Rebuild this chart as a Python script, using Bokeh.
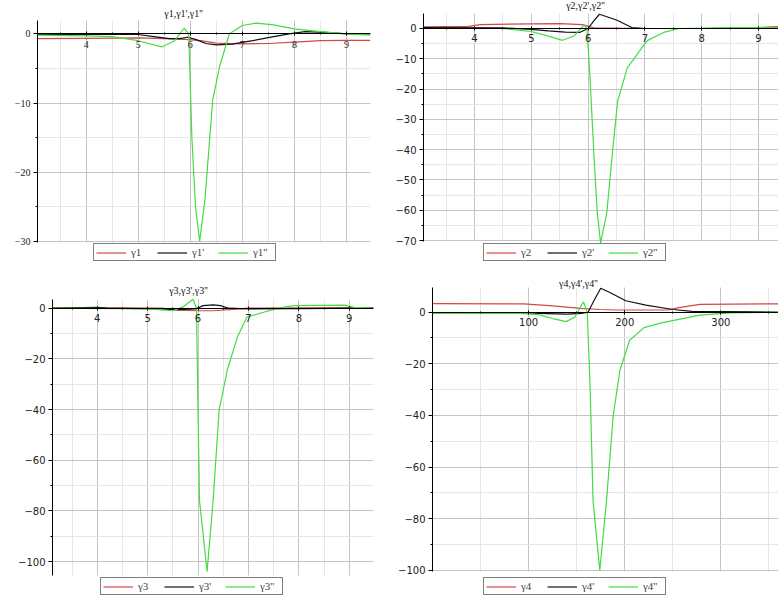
from bokeh.plotting import figure
from bokeh.models import Range1d, FixedTicker, Legend, LegendItem, Label
from bokeh.layouts import column, row
from bokeh.embed import file_html
from bokeh.resources import INLINE

RED = "#d04848"
BLACK = "#101010"
GREEN = "#44dc44"

# ---------------- data ----------------
# panel 1
g1_x = [3.07, 4.0, 5.0, 5.5, 5.9, 6.2, 6.5, 7.0, 7.5, 8.0, 8.5, 9.0, 9.46]
g1_y = [-0.7, -0.65, -0.6, -0.7, -0.8, -1.0, -1.35, -1.45, -1.4, -1.2, -1.0, -0.95, -0.95]
g1p_x = [3.07, 4.5, 5.0, 5.3, 5.6, 5.8, 5.95, 6.1, 6.3, 6.5, 6.8, 7.2, 7.6, 7.9, 8.2, 8.6, 9.0, 9.46]
g1p_y = [-0.1, -0.1, -0.1, -0.4, -0.7, -0.7, -0.5, -0.8, -1.4, -1.6, -1.5, -1.0, -0.4, 0.0, 0.3, 0.2, 0.0, 0.0]
g1pp_x = [3.07, 4.0, 4.5, 5.0, 5.45, 5.7, 5.88, 5.97, 6.03, 6.1, 6.18, 6.28, 6.37, 6.43, 6.56, 6.75,
          7.0, 7.27, 7.6, 8.0, 8.5, 9.0, 9.46]
g1pp_y = [-0.2, -0.3, -0.4, -1.0, -1.9, -1.0, 0.8, 0.0, -15.0, -25.0, -30.0, -24.0, -15.4, -9.6, -4.8, 0.0,
          1.2, 1.55, 1.3, 0.7, 0.3, 0.0, -0.2]

# panel 2
g2_x = [3.1, 3.9, 4.1, 5.0, 5.5, 5.9, 6.1, 7.0, 8.0, 9.0, 9.35]
g2_y = [0.5, 0.7, 1.3, 1.5, 1.6, 1.3, 0.2, 0.0, 0.0, 0.3, 0.6]
g2p_x = [3.1, 4.5, 5.0, 5.3, 5.6, 5.85, 6.0, 6.1, 6.2, 6.5, 6.77, 7.0, 9.35]
g2p_y = [0.3, 0.2, -0.3, -0.8, -1.2, -1.3, 0.0, 2.5, 4.7, 2.8, 0.3, 0.0, 0.0]
g2pp_x = [3.1, 4.5, 5.0, 5.3, 5.55, 5.75, 5.93, 5.98, 6.03, 6.1, 6.16, 6.22, 6.33, 6.43, 6.52, 6.69,
          7.04, 7.33, 7.6, 8.5, 9.35]
g2pp_y = [0.0, 0.0, -1.0, -2.5, -3.9, -2.5, 1.1, 0.0, -15.0, -40.7, -60.7, -70.8, -60.7, -40.7, -24.0, -13.0,
          -4.0, -1.3, 0.0, 0.3, 0.3]

# panel 3
g3_x = [3.11, 5.3, 5.6, 6.0, 6.3, 6.7, 7.0, 9.48]
g3_y = [0.2, 0.0, -0.8, -1.0, -1.0, -0.5, 0.0, 0.2]
g3p_x = [3.11, 4.0, 4.2, 5.2, 5.6, 5.95, 6.1, 6.3, 6.45, 6.6, 7.0, 9.48]
g3p_y = [0.0, 0.3, 0.0, -0.3, -0.6, -0.3, 1.0, 1.3, 1.0, 0.0, -0.3, 0.0]
g3pp_x = [3.11, 5.0, 5.5, 5.7, 5.9, 5.97, 6.0, 6.03, 6.18, 6.3, 6.42, 6.58, 6.78, 6.97, 7.3, 7.6, 7.9,
          8.9, 9.1, 9.48]
g3pp_y = [0.0, -0.3, -1.0, 0.5, 3.5, 0.0, -40.0, -76.0, -104.0, -76.0, -40.0, -24.5, -11.5, -3.5, -1.6, 0.0,
          1.0, 1.2, 0.3, 0.0]

# panel 4
g4_x = [0, 95, 125, 154, 175, 190, 245, 255, 278, 360]
g4_y = [3.3, 3.2, 2.4, 1.4, 1.0, 0.8, 0.8, 1.6, 3.0, 3.2]
g4p_x = [0, 100, 110, 140, 155, 162, 168, 175, 185, 201, 222, 250, 270, 300, 360]
g4p_y = [-0.3, -0.3, -0.5, -0.8, -0.5, 0.0, 4.5, 9.2, 7.5, 4.4, 2.7, 1.0, 0.3, 0.2, 0.0]
g4pp_x = [0, 90, 110, 125, 139, 148, 157, 161, 164, 167, 174, 181, 188, 195, 205, 220, 237, 278, 310, 360]
g4pp_y = [-0.5, -0.5, -1.0, -2.5, -3.7, -2.0, 4.0, 0.0, -30.0, -73.0, -100.0, -73.0, -40.0, -22.5, -10.9,
          -6.0, -4.3, -1.2, -0.3, 0.0]

names1 = ["γ1", "γ1'", "γ1''"]
names2 = ["γ2", "γ2'", "γ2''"]
names3 = ["γ3", "γ3'", "γ3''"]
names4 = ["γ4", "γ4'", "γ4''"]
titles = ["γ1,γ1',γ1''", "γ2,γ2',γ2''", "γ3,γ3',γ3''", "γ4,γ4',γ4''"]


def minus(v):
    return ("−" + str(abs(v))) if v < 0 else str(v)


def panel(width, height, borders, xr, yr, ybounds, xt, xmin, yt, ymin, series, names, title,
          title_xy, legend_loc, tick_font):
    bl, br = borders
    p = figure(width=width, height=height, x_range=Range1d(*xr), y_range=Range1d(*yr),
               output_backend="svg", toolbar_location=None, x_axis_location="above",
               min_border_left=bl, min_border_right=br, min_border_top=0, min_border_bottom=0)
    p.outline_line_color = None
    p.background_fill_color = "white"
    p.border_fill_color = "white"

    p.xaxis.ticker = FixedTicker(ticks=xt, minor_ticks=xmin)
    p.yaxis.ticker = FixedTicker(ticks=yt, minor_ticks=ymin)
    p.xaxis.major_label_overrides = {t: minus(t) for t in xt}
    p.yaxis.major_label_overrides = {t: minus(t) for t in yt}
    p.xaxis.fixed_location = 0
    p.yaxis.bounds = ybounds
    for ax in (p.xaxis[0], p.yaxis[0]):
        ax.axis_line_color = "black"
        ax.axis_line_width = 1
        ax.major_tick_line_color = "black"
        ax.minor_tick_line_color = "black"
        ax.major_label_text_font = tick_font
        ax.major_label_text_font_size = "10px"
        ax.major_label_text_color = "#222222"
    p.xaxis.major_tick_in = 2
    p.xaxis.major_tick_out = 2
    p.xaxis.minor_tick_in = 1
    p.xaxis.minor_tick_out = 1
    p.xaxis.major_label_standoff = -16
    p.yaxis.major_tick_in = 0
    p.yaxis.major_tick_out = 4
    p.yaxis.minor_tick_in = 0
    p.yaxis.minor_tick_out = 2
    p.yaxis.major_label_standoff = 3

    for g in (p.xgrid[0], p.ygrid[0]):
        g.grid_line_color = "#c4c4c4"
        g.grid_line_width = 1
        g.minor_grid_line_color = "#e6e6e6"
        g.minor_grid_line_width = 1
    try:
        p.xgrid[0].cross_bounds = ybounds
    except Exception:
        pass

    items = []
    for (xs, ys, col), nm in zip(series, names):
        r = p.line(xs, ys, line_color=col, line_width=1.2)
        items.append(LegendItem(label=nm, renderers=[r]))

    leg = Legend(items=items, orientation="horizontal", location=legend_loc,
                 glyph_width=30, glyph_height=11, label_standoff=5, spacing=6, padding=2,
                 margin=0, label_height=11, label_text_font="Liberation Serif",
                 label_text_font_size="11px", border_line_color="black", border_line_width=1,
                 background_fill_color="white", background_fill_alpha=1.0)
    p.add_layout(leg, "center")

    p.add_layout(Label(x=title_xy[0], y=title_xy[1], text=title, text_align="center",
                       text_baseline="middle", text_font="Liberation Serif",
                       text_font_size="10px", text_color="#111111"))
    return p


p1 = panel(380, 270, (37, 10), (3.065, 9.461), (-34.2, 4.81), (-30.1, 1.9),
           [4, 5, 6, 7, 8, 9], [3.5, 4.5, 5.5, 6.5, 7.5, 8.5], [0, -10, -20, -30], [-5, -15, -25],
           [(g1_x, g1_y, RED), (g1p_x, g1p_y, BLACK), (g1pp_x, g1pp_y, GREEN)], names1, titles[0],
           (5.87, 2.9), (56, 9), "Liberation Serif")

p2 = panel(398, 270, (43, 0), (3.102, 9.352), (-79.9, 9.24), (-70.3, 4.95),
           [4, 5, 6, 7, 8, 9], [3.5, 4.5, 5.5, 6.5, 7.5, 8.5],
           [0, -10, -20, -30, -40, -50, -60, -70], [-5, -15, -25, -35, -45, -55, -65],
           [(g2_x, g2_y, RED), (g2p_x, g2p_y, BLACK), (g2pp_x, g2pp_y, GREEN)], names2, titles[1],
           (5.954, 7.6), (60, 9), "DejaVu Sans")

p3 = panel(380, 327, (52, 7), (3.113, 9.482), (-114.2, 14.88), (-105.5, 3.5),
           [4, 5, 6, 7, 8, 9], [3.5, 4.5, 5.5, 6.5, 7.5, 8.5],
           [0, -20, -40, -60, -80, -100], [-10, -30, -50, -70, -90],
           [(g3_x, g3_y, RED), (g3p_x, g3p_y, BLACK), (g3pp_x, g3pp_y, GREEN)], names3, titles[2],
           (5.811, 7.0), (48, 2), "DejaVu Sans")

p4 = panel(398, 327, (52, 0), (0, 359.9), (-110.5, 16.1), (-100.4, 9.5),
           [100, 200, 300], [50, 150, 250, 350],
           [0, -20, -40, -60, -80, -100], [-10, -30, -50, -70, -90],
           [(g4_x, g4_y, RED), (g4p_x, g4p_y, BLACK), (g4pp_x, g4pp_y, GREEN)], names4, titles[3],
           (151.8, 11.1), (51, 2), "DejaVu Sans")

layout = column(row(p1, p2, spacing=0), row(p3, p4, spacing=0), spacing=0)

open("out.html", "w").write(file_html(layout, INLINE))
